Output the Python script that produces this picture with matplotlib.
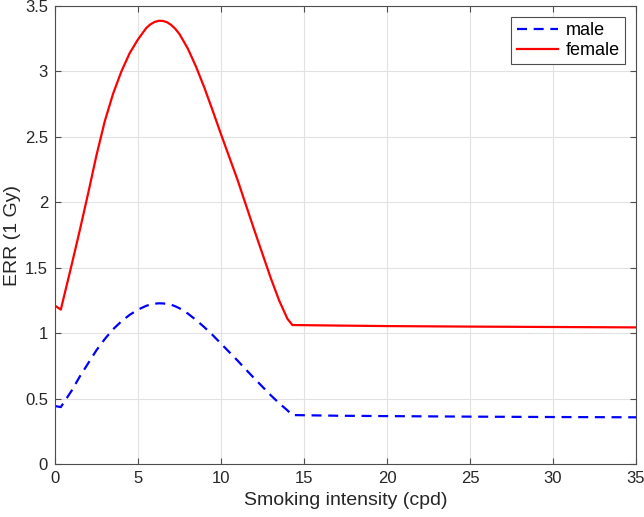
import matplotlib
matplotlib.use("Agg")
import matplotlib.pyplot as plt
from matplotlib.ticker import FuncFormatter

plt.rcParams['font.family'] = ['Liberation Sans', 'DejaVu Sans']

x = [0, 0.35, 1, 1.5, 2, 2.5, 3, 3.5, 4, 4.5, 5, 5.5, 5.75, 6, 6.25, 6.5, 6.75, 7,
     7.25, 7.5, 8, 8.5, 9, 9.5, 10, 10.5, 11, 11.5, 12, 12.5, 13, 13.5, 14, 14.3,
     17, 20, 25, 30, 35]
female = [1.21, 1.18, 1.52, 1.79, 2.07, 2.36, 2.62, 2.83, 3.00, 3.14, 3.245, 3.332,
          3.360, 3.378, 3.387, 3.386, 3.376, 3.355, 3.325, 3.285, 3.175, 3.035, 2.875,
          2.70, 2.52, 2.345, 2.17, 1.98, 1.79, 1.605, 1.42, 1.25, 1.11, 1.062,
          1.058, 1.054, 1.050, 1.047, 1.044]
male = [0.443, 0.435, 0.56, 0.67, 0.77, 0.87, 0.955, 1.03, 1.09, 1.14, 1.18, 1.209,
        1.219, 1.225, 1.228, 1.227, 1.224, 1.217, 1.205, 1.19, 1.15, 1.10, 1.045,
        0.985, 0.92, 0.855, 0.79, 0.722, 0.655, 0.59, 0.525, 0.465, 0.41, 0.374,
        0.369, 0.366, 0.362, 0.359, 0.357]

xticks = [0, 5, 10, 15, 20, 25, 30, 35]
yticks = [0, 0.5, 1, 1.5, 2, 2.5, 3, 3.5]

fig = plt.figure(figsize=(6.44, 5.17), dpi=100)
ax = fig.add_axes([0.0854, 0.1025, 0.9022, 0.8859])

ax.plot(x, male, color='#0000ff', linestyle=(0, (4.5, 3)), linewidth=1.6, label='male')
ax.plot(x, female, color='#ff0000', linestyle='-', linewidth=1.6, label='female')

ax.set_xlim(0, 35)
ax.set_ylim(0, 3.5)
ax.set_xticks(xticks)
ax.set_yticks(yticks)
ax.yaxis.set_major_formatter(FuncFormatter(lambda v, p: ('%g' % v)))
ax.xaxis.set_major_formatter(FuncFormatter(lambda v, p: ('%g' % v)))

ax.grid(True, color='#e2e2e2', linewidth=0.8)
ax.set_axisbelow(True)
for s in ax.spines.values():
    s.set_color('#4d4d4d')
    s.set_linewidth(0.8)
ax.tick_params(direction='in', top=True, right=True, length=4, width=0.8,
               colors='#4d4d4d', labelcolor='#262626', labelsize=12, pad=5)

ax.set_xlabel('Smoking intensity (cpd)', fontsize=14, color='#262626', labelpad=4)
ax.set_ylabel('ERR (1 Gy)', fontsize=14, color='#262626', labelpad=3)

leg = ax.legend(loc='upper right', fontsize=13, fancybox=False, framealpha=1,
                edgecolor='#4d4d4d', handlelength=2.3, borderpad=0.3,
                labelspacing=0.15, handletextpad=0.4, borderaxespad=0.6)
leg.get_frame().set_linewidth(0.8)

fig.savefig('out.png', dpi=100)
